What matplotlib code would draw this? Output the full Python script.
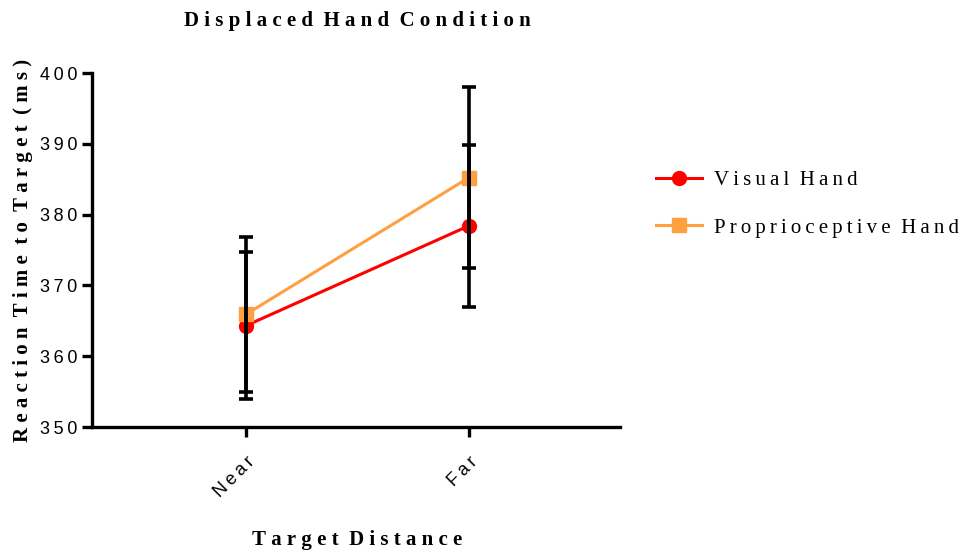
import numpy as np
import matplotlib
matplotlib.use("Agg")
import matplotlib.pyplot as plt

# ── Data: mean reaction time (ms) and error bar half-widths ──
conditions = ["Near", "Far"]
visual_mean = [364.3, 378.4]
visual_err = [10.4, 11.4]
proprio_mean = [365.9, 385.2]
proprio_err = [11.0, 12.8]

SERIF = ["Liberation Serif", "DejaVu Serif"]
SANS = ["Liberation Sans", "DejaVu Sans"]


def spaced(text, sep="\u2009"):
    """Letter-spaced text: thin space between characters, plain space between words."""
    return "  ".join(sep.join(w) for w in text.split(" "))


fig = plt.figure(figsize=(9.76, 5.54), dpi=100)
ax = fig.add_axes([0.0943, 0.2292, 0.541, 0.639])

x = np.arange(len(conditions))
lw = 2.2

ax.plot(x, visual_mean, color="#FF0000", linewidth=lw, marker="o",
        markersize=10, zorder=2, label=spaced("Visual Hand"))
ax.plot(x, proprio_mean, color="#FFA040", linewidth=lw, marker="s",
        markersize=10, zorder=2, label=spaced("Proprioceptive Hand"))

for m, e in [(visual_mean, visual_err), (proprio_mean, proprio_err)]:
    ax.errorbar(x, m, yerr=e, fmt="none", ecolor="black", elinewidth=2.6,
                capsize=5, capthick=2.6, zorder=3)

ax.set_xlim(-0.69, 1.68)
ax.set_ylim(350, 400)
ax.set_yticks(np.arange(350, 401, 10))
ax.set_yticklabels([spaced(str(v)) for v in range(350, 401, 10)],
                   family=SANS, fontsize=13)
ax.set_xticks(x)
ax.set_xticklabels([spaced(c) for c in conditions], family=SANS, fontsize=13,
                   rotation=45, ha="right", rotation_mode="anchor")

for side in ["top", "right"]:
    ax.spines[side].set_visible(False)
for side in ["left", "bottom"]:
    ax.spines[side].set_linewidth(2.4)
ax.tick_params(axis="both", direction="out", length=7, width=2.4)
ax.tick_params(axis="y", pad=3.5)
ax.tick_params(axis="x", pad=12)

ax.set_ylabel(spaced("Reaction Time to Target (ms)", "\u2005"), family=SERIF,
              fontweight="bold", fontsize=15, labelpad=5)
fig.text(0.366, 0.008, spaced("Target Distance", "\u2005"), family=SERIF,
         fontweight="bold", fontsize=15, ha="center", va="bottom")
fig.text(0.366, 0.962, spaced("Displaced Hand Condition", "\u2005"),
         family=SERIF, fontweight="bold", fontsize=15,
         ha="center", va="center")

leg = fig.legend(loc="center left", bbox_to_anchor=(0.653, 0.632),
                 frameon=False, handlelength=2.2, handletextpad=0.6,
                 labelspacing=1.35, prop={"family": SERIF, "size": 15})

fig.savefig("out.png", dpi=100)
plt.close()
